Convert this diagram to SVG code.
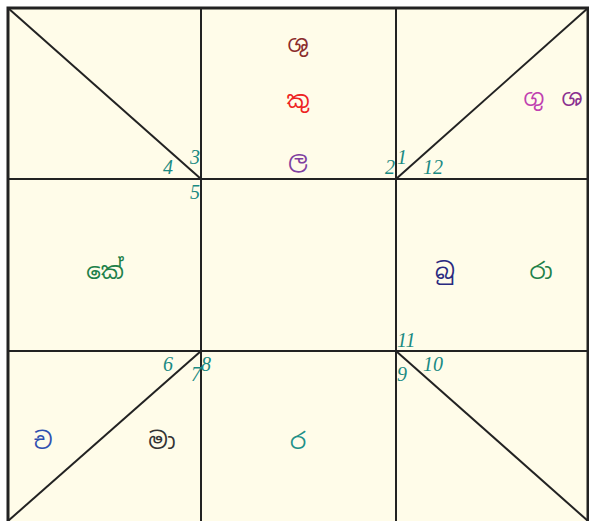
<svg xmlns="http://www.w3.org/2000/svg" width="589" height="521" viewBox="0 0 589 521">
<style>
.ln{stroke:#222;stroke-width:2;fill:none}
.num{font-family:"Liberation Serif",serif;font-style:italic;font-size:20px;fill:#1a8a82}
.pl{font-family:"Noto Sans Sinhala","Noto Sans",sans-serif;font-size:23px;text-anchor:middle}
</style>
<rect x="0" y="0" width="589" height="521" fill="#ffffff"/>
<rect x="8" y="8" width="580" height="515" fill="#fffce9"/>
<g id="connectors">
<line class="ln" x1="201" y1="8" x2="201" y2="521"/>
<line class="ln" x1="396" y1="8" x2="396" y2="521"/>
<line class="ln" x1="8" y1="179" x2="588" y2="179"/>
<line class="ln" x1="8" y1="351" x2="588" y2="351"/>
<line class="ln" x1="8" y1="8" x2="201" y2="179"/>
<line class="ln" x1="588" y1="8" x2="396" y2="179"/>
<line class="ln" x1="8" y1="521" x2="201" y2="351"/>
<line class="ln" x1="588" y1="521" x2="396" y2="351"/>
<path d="M8,523 V8 H588 V523" stroke="#222" stroke-width="3" fill="none"/>
</g>
<g id="numbers">
<text class="num" x="163" y="174">4</text>
<text class="num" x="190" y="164">3</text>
<text class="num" x="190" y="199">5</text>
<text class="num" x="385" y="174">2</text>
<text class="num" x="397" y="164">1</text>
<text class="num" x="423" y="174">12</text>
<text class="num" x="163" y="371">6</text>
<text class="num" x="191" y="381">7</text>
<text class="num" x="201" y="371">8</text>
<text class="num" x="397" y="347">11</text>
<text class="num" x="423" y="371">10</text>
<text class="num" x="397" y="381">9</text>
</g>
<g id="house-top">
<text class="pl" x="298" y="52" fill="#8b2c2c">ශු</text>
<text class="pl" x="298" y="108" fill="#ee2222">කු</text>
<text class="pl" x="298" y="168" fill="#8040a0">ල</text>
</g>
<g id="house-topright">
<text class="pl" x="534" y="106" fill="#c040b0">ගු</text>
<text class="pl" x="572" y="106" fill="#8a3090">ශ</text>
</g>
<g id="house-left">
<text class="pl" x="105" y="279" fill="#208048">කේ</text>
</g>
<g id="house-right">
<text class="pl" x="445" y="279" fill="#2a2a80">බු</text>
<text class="pl" x="541" y="279" fill="#208048">රා</text>
</g>
<g id="house-bottomleft">
<text class="pl" x="43" y="449" fill="#3050b0">ච</text>
<text class="pl" x="162" y="449" fill="#333">මා</text>
</g>
<g id="house-bottom">
<text class="pl" x="298" y="449" fill="#209088">ර</text>
</g>
</svg>
